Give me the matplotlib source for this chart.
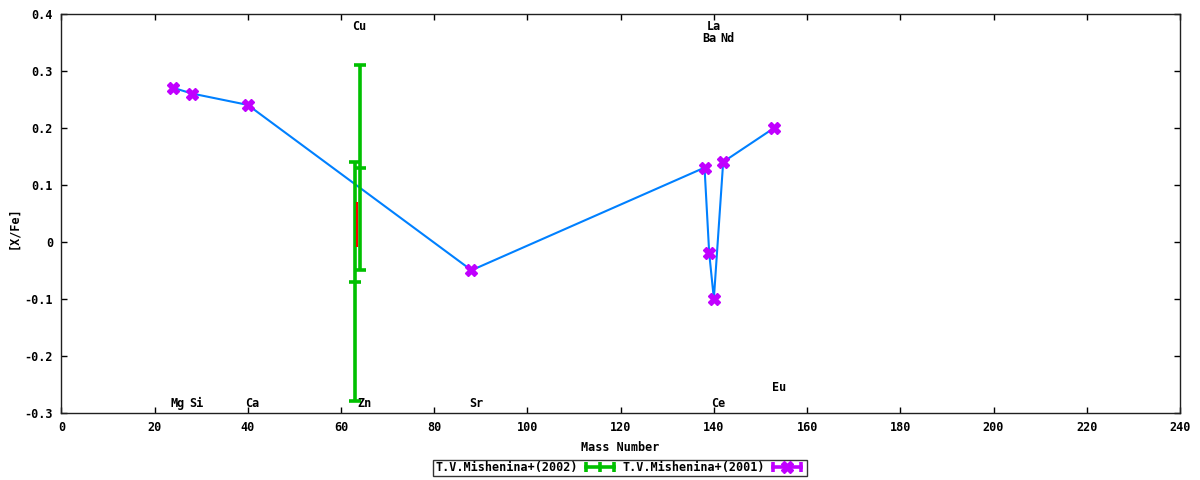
import matplotlib
matplotlib.use("Agg")
import matplotlib.pyplot as plt
from matplotlib.lines import Line2D
from matplotlib.legend_handler import HandlerLine2D, HandlerTuple

# ---- data ----
# T.V.Mishenina+(2001)
m01_x = [24, 28, 40, 88, 138, 139, 140, 142, 153]
m01_y = [0.27, 0.26, 0.24, -0.05, 0.13, -0.02, -0.10, 0.14, 0.20]
# T.V.Mishenina+(2002)
m02_x = [63, 64]
m02_y = [-0.07, 0.13]
m02_err = [0.21, 0.18]
# extra red segment
red_x = [63.4]
red_y = [0.03]
red_err = [0.04]
# element labels
label_names = ['Mg', 'Si', 'Ca', 'Cu', 'Zn', 'Sr', 'La', 'Ba', 'Nd', 'Ce', 'Eu']
label_x = [24, 28, 40, 63, 64, 88, 139, 138, 142, 140, 153]
label_y = [-0.283, -0.283, -0.283, 0.378, -0.283, -0.283, 0.378, 0.357, 0.357, -0.283, -0.255]
xticks = list(range(0, 241, 20))
yticks = [-0.3, -0.2, -0.1, 0, 0.1, 0.2, 0.3, 0.4]
ytick_labels = ['-0.3', '-0.2', '-0.1', '0', '0.1', '0.2', '0.3', '0.4']

GREEN = '#00c000'
PURPLE = '#c000ff'
BLUE = '#0080ff'
RED = '#ff0000'

plt.rcParams['font.family'] = ['DejaVu Sans Mono']
plt.rcParams['font.weight'] = 'bold'
FS = 8.5

fig = plt.figure(figsize=(12, 4.8), dpi=100)
ax = fig.add_axes([0.0511, 0.140, 0.9322, 0.8315])

# blue connecting line
ax.plot(m01_x, m01_y, color=BLUE, lw=1.5, zorder=2)

# green error bars
ax.errorbar(m02_x, m02_y, yerr=m02_err, fmt='none', ecolor=GREEN,
            elinewidth=2.6, capsize=4.5, capthick=2.6, zorder=3)
ax.plot(m02_x, m02_y, ls='none', marker='_', ms=9, mew=2.6, color=GREEN, zorder=3)

# red segment
ax.errorbar(red_x, red_y, yerr=red_err, fmt='none', ecolor=RED,
            elinewidth=1.5, capsize=0, zorder=4)

# purple points
ax.plot(m01_x, m01_y, ls='none', marker='X', ms=8, color=PURPLE,
        mec=PURPLE, zorder=5)

# element labels
for name, lx, ly in zip(label_names, label_x, label_y):
    ax.annotate(name, (lx, ly), xytext=(3.3, 0), textcoords='offset points',
                ha='center', va='center', fontsize=FS, fontweight='bold')

ax.set_xlim(0, 240)
ax.set_ylim(-0.3, 0.4)
ax.set_xticks(xticks)
ax.set_xticklabels([str(t) for t in xticks])
ax.set_yticks(yticks)
ax.set_yticklabels(ytick_labels)
ax.tick_params(direction='in', length=4, width=1, top=True, right=True,
               labelsize=FS, pad=6)
for s in ax.spines.values():
    s.set_linewidth(1.0)
    s.set_color('#202020')

ax.set_xlabel('Mass Number', fontsize=FS, fontweight='bold', labelpad=5)
ax.set_ylabel('[X/Fe]', fontsize=FS, fontweight='bold', va='center')
ax.yaxis.set_label_coords(-0.0425, 0.463)

# legend
h02_caps = Line2D([], [], color=GREEN, lw=2.6, marker='|', ms=7, mew=2.6)
h02_mid = Line2D([], [], color=GREEN, ls='none', marker='|', ms=7, mew=2.6)
h01_caps = Line2D([], [], color=PURPLE, lw=2.6, marker='|', ms=7, mew=2.6)
h01_mid = Line2D([], [], color=PURPLE, ls='none', marker='X', ms=8)
leg = fig.legend([(h02_caps, h02_mid), (h01_caps, h01_mid)],
                 ['T.V.Mishenina+(2002)', 'T.V.Mishenina+(2001)'],
                 handler_map={h02_caps: HandlerLine2D(numpoints=2),
                              h01_caps: HandlerLine2D(numpoints=2),
                              h02_mid: HandlerLine2D(numpoints=1),
                              h01_mid: HandlerLine2D(numpoints=1),
                              tuple: HandlerTuple(ndivide=1, pad=0)},
                 loc='center', bbox_to_anchor=(0.5167, 0.025), ncol=2,
                 markerfirst=False, fontsize=FS, frameon=True, fancybox=False,
                 edgecolor='black', borderpad=0.15, handlelength=3.0,
                 handletextpad=0.4, columnspacing=0.4, borderaxespad=0)
leg.get_frame().set_linewidth(1.0)

fig.savefig('out.png', dpi=100)
